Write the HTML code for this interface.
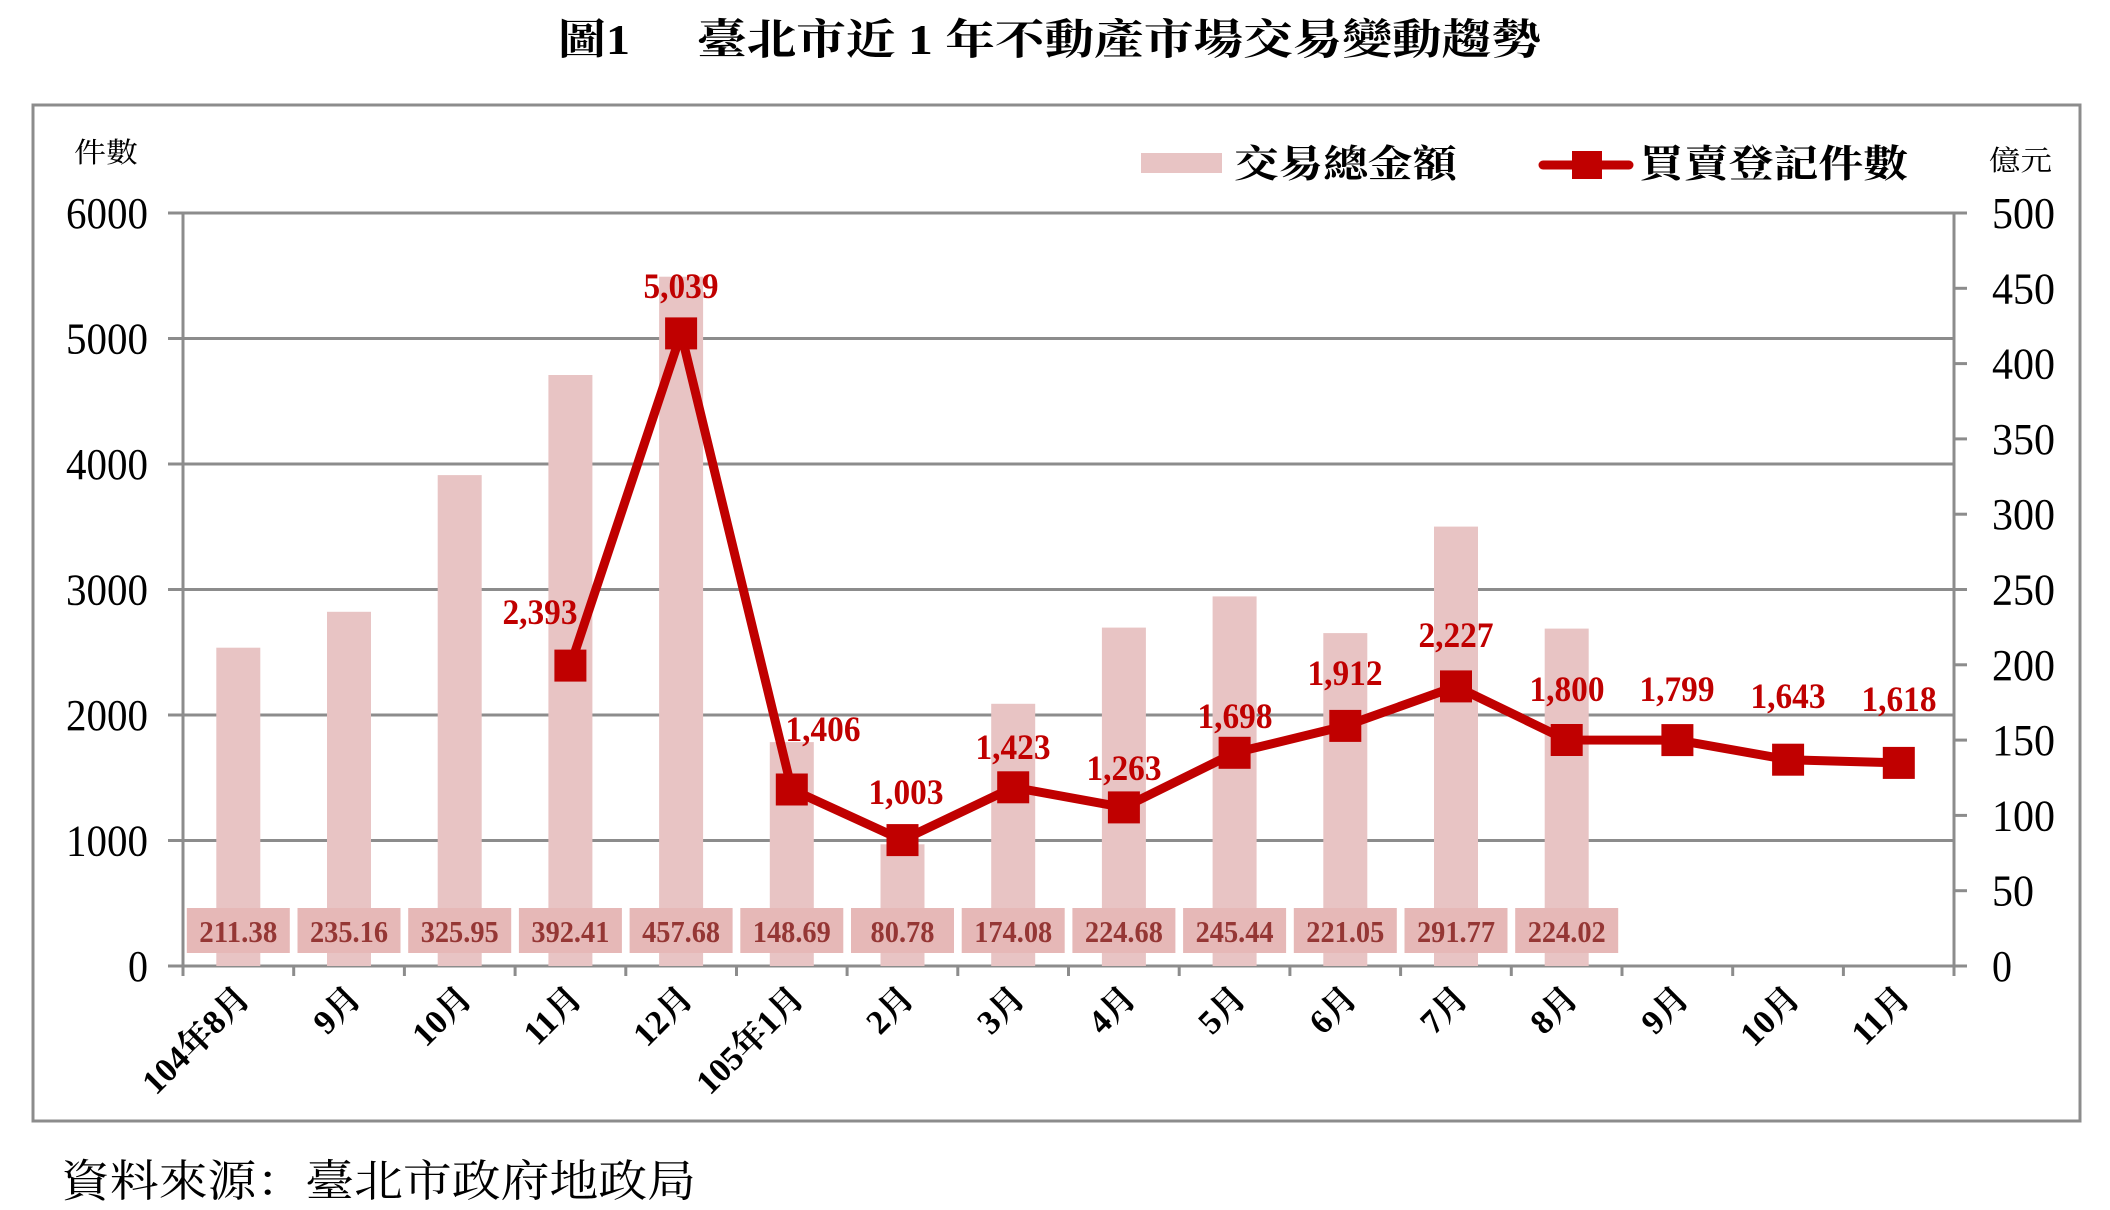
<!DOCTYPE html>
<html><head><meta charset="utf-8"><style>
html,body{margin:0;padding:0;background:#fff;}
svg{display:block;}
.cjk{font-family:"Liberation Serif","Noto Serif CJK SC","Noto Sans CJK TC",serif;}
.num{font-family:"Liberation Serif",serif;}
</style></head><body>
<svg width="2110" height="1210" viewBox="0 0 2110 1210" xmlns="http://www.w3.org/2000/svg">
<rect width="2110" height="1210" fill="#fff"/>
<text class="cjk" x="558" y="54" font-size="42" font-weight="bold" textLength="72" lengthAdjust="spacingAndGlyphs">圖1</text>
<text class="cjk" x="697" y="54" font-size="42" font-weight="bold" textLength="844" lengthAdjust="spacingAndGlyphs">臺北市近 1 年不動產市場交易變動趨勢</text>
<rect x="33" y="105" width="2047" height="1016" fill="none" stroke="#8c8c8c" stroke-width="3"/>
<g stroke="#8c8c8c" stroke-width="3">
<line x1="168" y1="213" x2="1954" y2="213"/>
<line x1="168" y1="338.5" x2="1954" y2="338.5"/>
<line x1="168" y1="464" x2="1954" y2="464"/>
<line x1="168" y1="589.5" x2="1954" y2="589.5"/>
<line x1="168" y1="715" x2="1954" y2="715"/>
<line x1="168" y1="840.5" x2="1954" y2="840.5"/>
<line x1="168" y1="966" x2="1967" y2="966"/>
<line x1="183" y1="213" x2="183" y2="976"/>
<line x1="1954" y1="213" x2="1954" y2="976"/>
<line x1="1954" y1="288.3" x2="1967" y2="288.3"/>
<line x1="1954" y1="363.6" x2="1967" y2="363.6"/>
<line x1="1954" y1="438.9" x2="1967" y2="438.9"/>
<line x1="1954" y1="514.2" x2="1967" y2="514.2"/>
<line x1="1954" y1="589.5" x2="1967" y2="589.5"/>
<line x1="1954" y1="664.8" x2="1967" y2="664.8"/>
<line x1="1954" y1="740.1" x2="1967" y2="740.1"/>
<line x1="1954" y1="815.4" x2="1967" y2="815.4"/>
<line x1="1954" y1="890.7" x2="1967" y2="890.7"/>
<line x1="1954" y1="213" x2="1967" y2="213"/>
<line x1="293.7" y1="966" x2="293.7" y2="976"/>
<line x1="404.4" y1="966" x2="404.4" y2="976"/>
<line x1="515.1" y1="966" x2="515.1" y2="976"/>
<line x1="625.8" y1="966" x2="625.8" y2="976"/>
<line x1="736.5" y1="966" x2="736.5" y2="976"/>
<line x1="847.1" y1="966" x2="847.1" y2="976"/>
<line x1="957.8" y1="966" x2="957.8" y2="976"/>
<line x1="1068.5" y1="966" x2="1068.5" y2="976"/>
<line x1="1179.2" y1="966" x2="1179.2" y2="976"/>
<line x1="1289.9" y1="966" x2="1289.9" y2="976"/>
<line x1="1400.6" y1="966" x2="1400.6" y2="976"/>
<line x1="1511.3" y1="966" x2="1511.3" y2="976"/>
<line x1="1622" y1="966" x2="1622" y2="976"/>
<line x1="1732.7" y1="966" x2="1732.7" y2="976"/>
<line x1="1843.4" y1="966" x2="1843.4" y2="976"/>
</g>
<g fill="#e8c4c4">
<rect x="216.3" y="647.7" width="44" height="318.3"/>
<rect x="327" y="611.8" width="44" height="354.2"/>
<rect x="437.7" y="475.1" width="44" height="490.9"/>
<rect x="548.4" y="375" width="44" height="591"/>
<rect x="659.1" y="276.7" width="44" height="689.3"/>
<rect x="769.8" y="742.1" width="44" height="223.9"/>
<rect x="880.5" y="844.3" width="44" height="121.7"/>
<rect x="991.2" y="703.8" width="44" height="262.2"/>
<rect x="1101.9" y="627.6" width="44" height="338.4"/>
<rect x="1212.6" y="596.4" width="44" height="369.6"/>
<rect x="1323.3" y="633.1" width="44" height="332.9"/>
<rect x="1434" y="526.6" width="44" height="439.4"/>
<rect x="1544.7" y="628.6" width="44" height="337.4"/>
</g>
<g fill="#e6b8b7">
<rect x="186.8" y="908" width="103" height="45"/>
<rect x="297.5" y="908" width="103" height="45"/>
<rect x="408.2" y="908" width="103" height="45"/>
<rect x="518.9" y="908" width="103" height="45"/>
<rect x="629.6" y="908" width="103" height="45"/>
<rect x="740.3" y="908" width="103" height="45"/>
<rect x="851" y="908" width="103" height="45"/>
<rect x="961.7" y="908" width="103" height="45"/>
<rect x="1072.4" y="908" width="103" height="45"/>
<rect x="1183.1" y="908" width="103" height="45"/>
<rect x="1293.8" y="908" width="103" height="45"/>
<rect x="1404.5" y="908" width="103" height="45"/>
<rect x="1515.2" y="908" width="103" height="45"/>
</g>
<g class="num" fill="#953735" font-size="31" font-weight="bold" text-anchor="middle" lengthAdjust="spacingAndGlyphs">
<text x="238.3" y="942" textLength="78" lengthAdjust="spacingAndGlyphs">211.38</text>
<text x="349" y="942" textLength="78" lengthAdjust="spacingAndGlyphs">235.16</text>
<text x="459.7" y="942" textLength="78" lengthAdjust="spacingAndGlyphs">325.95</text>
<text x="570.4" y="942" textLength="78" lengthAdjust="spacingAndGlyphs">392.41</text>
<text x="681.1" y="942" textLength="78" lengthAdjust="spacingAndGlyphs">457.68</text>
<text x="791.8" y="942" textLength="78" lengthAdjust="spacingAndGlyphs">148.69</text>
<text x="902.5" y="942" textLength="64" lengthAdjust="spacingAndGlyphs">80.78</text>
<text x="1013.2" y="942" textLength="78" lengthAdjust="spacingAndGlyphs">174.08</text>
<text x="1123.9" y="942" textLength="78" lengthAdjust="spacingAndGlyphs">224.68</text>
<text x="1234.6" y="942" textLength="78" lengthAdjust="spacingAndGlyphs">245.44</text>
<text x="1345.3" y="942" textLength="78" lengthAdjust="spacingAndGlyphs">221.05</text>
<text x="1456" y="942" textLength="78" lengthAdjust="spacingAndGlyphs">291.77</text>
<text x="1566.7" y="942" textLength="78" lengthAdjust="spacingAndGlyphs">224.02</text>
</g>
<polyline fill="none" stroke="#c00000" stroke-width="9" stroke-linejoin="round" points="570.4,665.6 681.1,333.4 791.8,789.5 902.5,840.1 1013.2,787.3 1123.9,807.4 1234.6,752.8 1345.3,725.9 1456,686.4 1566.7,740 1677.4,740.1 1788.1,759.7 1898.8,762.9"/>
<g fill="#c00000">
<rect x="554.4" y="649.6" width="32" height="32"/>
<rect x="665.1" y="317.4" width="32" height="32"/>
<rect x="775.8" y="773.5" width="32" height="32"/>
<rect x="886.5" y="824.1" width="32" height="32"/>
<rect x="997.2" y="771.3" width="32" height="32"/>
<rect x="1107.9" y="791.4" width="32" height="32"/>
<rect x="1218.6" y="736.8" width="32" height="32"/>
<rect x="1329.3" y="709.9" width="32" height="32"/>
<rect x="1440" y="670.4" width="32" height="32"/>
<rect x="1550.7" y="724" width="32" height="32"/>
<rect x="1661.4" y="724.1" width="32" height="32"/>
<rect x="1772.1" y="743.7" width="32" height="32"/>
<rect x="1882.8" y="746.9" width="32" height="32"/>
</g>
<g class="num" fill="#c00000" font-size="36" font-weight="bold" text-anchor="middle">
<text x="540" y="624" textLength="75" lengthAdjust="spacingAndGlyphs">2,393</text>
<text x="681" y="298" textLength="75" lengthAdjust="spacingAndGlyphs">5,039</text>
<text x="823" y="741" textLength="75" lengthAdjust="spacingAndGlyphs">1,406</text>
<text x="906" y="804" textLength="75" lengthAdjust="spacingAndGlyphs">1,003</text>
<text x="1013" y="759" textLength="75" lengthAdjust="spacingAndGlyphs">1,423</text>
<text x="1124" y="780" textLength="75" lengthAdjust="spacingAndGlyphs">1,263</text>
<text x="1235" y="728" textLength="75" lengthAdjust="spacingAndGlyphs">1,698</text>
<text x="1345" y="685" textLength="75" lengthAdjust="spacingAndGlyphs">1,912</text>
<text x="1456" y="647" textLength="75" lengthAdjust="spacingAndGlyphs">2,227</text>
<text x="1567" y="701" textLength="75" lengthAdjust="spacingAndGlyphs">1,800</text>
<text x="1677" y="701" textLength="75" lengthAdjust="spacingAndGlyphs">1,799</text>
<text x="1788" y="708" textLength="75" lengthAdjust="spacingAndGlyphs">1,643</text>
<text x="1899" y="711" textLength="75" lengthAdjust="spacingAndGlyphs">1,618</text>
</g>
<g class="num" fill="#000" font-size="44" text-anchor="end">
<text x="148" y="228" textLength="82" lengthAdjust="spacingAndGlyphs">6000</text>
<text x="148" y="353.5" textLength="82" lengthAdjust="spacingAndGlyphs">5000</text>
<text x="148" y="479" textLength="82" lengthAdjust="spacingAndGlyphs">4000</text>
<text x="148" y="604.5" textLength="82" lengthAdjust="spacingAndGlyphs">3000</text>
<text x="148" y="730" textLength="82" lengthAdjust="spacingAndGlyphs">2000</text>
<text x="148" y="855.5" textLength="82" lengthAdjust="spacingAndGlyphs">1000</text>
<text x="148" y="981" textLength="20" lengthAdjust="spacingAndGlyphs">0</text>
</g>
<g class="num" fill="#000" font-size="44">
<text x="1992" y="228" textLength="63" lengthAdjust="spacingAndGlyphs">500</text>
<text x="1992" y="303.3" textLength="63" lengthAdjust="spacingAndGlyphs">450</text>
<text x="1992" y="378.6" textLength="63" lengthAdjust="spacingAndGlyphs">400</text>
<text x="1992" y="453.9" textLength="63" lengthAdjust="spacingAndGlyphs">350</text>
<text x="1992" y="529.2" textLength="63" lengthAdjust="spacingAndGlyphs">300</text>
<text x="1992" y="604.5" textLength="63" lengthAdjust="spacingAndGlyphs">250</text>
<text x="1992" y="679.8" textLength="63" lengthAdjust="spacingAndGlyphs">200</text>
<text x="1992" y="755.1" textLength="63" lengthAdjust="spacingAndGlyphs">150</text>
<text x="1992" y="830.4" textLength="63" lengthAdjust="spacingAndGlyphs">100</text>
<text x="1992" y="905.7" textLength="42" lengthAdjust="spacingAndGlyphs">50</text>
<text x="1992" y="981" textLength="20" lengthAdjust="spacingAndGlyphs">0</text>
</g>
<text class="cjk" x="74" y="162" font-size="28" textLength="64" lengthAdjust="spacingAndGlyphs">件數</text>
<text class="cjk" x="1989" y="170" font-size="28" textLength="63" lengthAdjust="spacingAndGlyphs">億元</text>
<rect x="1141" y="153" width="81" height="20" fill="#e8c4c4"/>
<text class="cjk" x="1234" y="177" font-size="38" font-weight="bold" textLength="223" lengthAdjust="spacingAndGlyphs">交易總金額</text>
<line x1="1543" y1="165" x2="1629" y2="165" stroke="#c00000" stroke-width="9" stroke-linecap="round"/>
<rect x="1572" y="151" width="30" height="28" fill="#c00000"/>
<text class="cjk" x="1639" y="177" font-size="38" font-weight="bold" textLength="269" lengthAdjust="spacingAndGlyphs">買賣登記件數</text>
<g class="cjk" fill="#000" font-size="34" font-weight="bold" text-anchor="end">
<text transform="translate(252,1000) rotate(-45)">104年8月</text>
<text transform="translate(363,1000) rotate(-45)">9月</text>
<text transform="translate(474,1000) rotate(-45)">10月</text>
<text transform="translate(584,1000) rotate(-45)">11月</text>
<text transform="translate(695,1000) rotate(-45)">12月</text>
<text transform="translate(806,1000) rotate(-45)">105年1月</text>
<text transform="translate(916,1000) rotate(-45)">2月</text>
<text transform="translate(1027,1000) rotate(-45)">3月</text>
<text transform="translate(1138,1000) rotate(-45)">4月</text>
<text transform="translate(1248,1000) rotate(-45)">5月</text>
<text transform="translate(1359,1000) rotate(-45)">6月</text>
<text transform="translate(1470,1000) rotate(-45)">7月</text>
<text transform="translate(1580,1000) rotate(-45)">8月</text>
<text transform="translate(1691,1000) rotate(-45)">9月</text>
<text transform="translate(1802,1000) rotate(-45)">10月</text>
<text transform="translate(1912,1000) rotate(-45)">11月</text>
</g>
<text class="cjk" x="61" y="1196" font-size="44" textLength="635" lengthAdjust="spacingAndGlyphs">資料來源：臺北市政府地政局</text>
</svg>
</body></html>
